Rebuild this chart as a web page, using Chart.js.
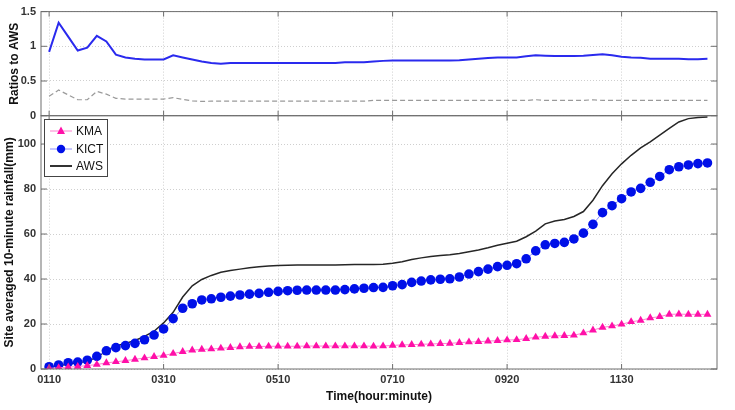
<!DOCTYPE html>
<html>
<head>
<meta charset="utf-8">
<script src="https://cdn.jsdelivr.net/npm/chart.js@4.4.1/dist/chart.umd.min.js"></script>
<style>
    html, body { margin: 0; padding: 0; background: #fff; }
    #wrap { position: relative; width: 735px; height: 410px; }
    #wrap canvas { position: absolute; left: 0; top: 0; }
</style>
</head>
<body>
<div id="wrap">
    <canvas id="ratioChart" width="735" height="410"></canvas>
    <canvas id="rainChart" width="735" height="410"></canvas>
</div>
<script>
// 10-minute steps, one tick label every 12 steps
const tickIndex = [0, 12, 24, 36, 48, 60];
const tickLabels = ['0110', '0310', '0510', '0710', '0920', '1130'];

const kma = [
    0.3, 0.5, 0.8, 1.1, 1.5, 2.0, 2.7, 3.2, 3.7, 4.3,
    4.9, 5.5, 6.0, 6.9, 7.7, 8.4, 8.7, 8.9, 9.2, 9.5,
    9.8, 10.0, 10.0, 10.1, 10.1, 10.1, 10.1, 10.2, 10.2, 10.2,
    10.2, 10.2, 10.2, 10.2, 10.1, 10.2, 10.5, 10.7, 10.8, 11.0,
    11.1, 11.3, 11.4, 11.7, 12.0, 12.1, 12.4, 12.6, 12.9, 13.0,
    13.5, 14.1, 14.5, 14.7, 14.8, 15.0, 16.0, 17.3, 18.5, 19.1,
    19.9, 21.0, 21.6, 22.7, 23.3, 24.3, 24.4, 24.3, 24.3, 24.3
];
const kict = [
    1.0, 1.8, 2.8, 3.1, 3.9, 5.6, 8.1, 9.5, 10.4, 11.4,
    13.0, 15.1, 17.8, 22.4, 27.0, 29.0, 30.7, 31.2, 31.9, 32.4,
    32.9, 33.3, 33.6, 34.1, 34.5, 34.8, 35.0, 35.1, 35.1, 35.1,
    35.1, 35.3, 35.6, 35.9, 36.2, 36.3, 37.0, 37.5, 38.5, 39.1,
    39.6, 39.9, 40.1, 40.9, 42.2, 43.3, 44.4, 45.5, 46.1, 46.8,
    49.0, 52.5, 55.2, 55.8, 56.3, 57.8, 60.4, 64.3, 69.5, 72.6,
    75.7, 78.7, 80.3, 83.0, 85.6, 88.6, 89.9, 90.7, 91.3, 91.6
];
const aws = [
    0.8, 1.4, 2.2, 2.8, 3.6, 5.2, 8.2, 10.2, 11.4, 12.7,
    14.5, 16.8, 20.5, 25.2, 32.0, 37.0, 39.8, 41.6, 43.0, 43.8,
    44.4, 45.0, 45.4, 45.8, 46.0, 46.1, 46.2, 46.2, 46.2, 46.2,
    46.2, 46.3, 46.4, 46.5, 46.5, 46.6, 47.0, 47.7, 48.7, 49.4,
    50.0, 50.5, 50.8, 51.3, 52.1, 52.9, 53.9, 55.0, 55.9, 56.8,
    58.8, 61.3, 64.5, 65.8, 66.5, 67.8, 70.0, 75.0, 81.5, 86.8,
    91.2, 95.0, 98.3, 101.0, 104.0, 107.0, 109.8, 111.3, 111.8, 112.0
];
const ratioKict = [
    0.92, 1.34, 1.14, 0.94, 0.98, 1.15, 1.07, 0.88, 0.84, 0.82,
    0.81, 0.81, 0.81, 0.87, 0.84, 0.81, 0.78, 0.76, 0.75, 0.76,
    0.76, 0.76, 0.76, 0.76, 0.76, 0.76, 0.76, 0.76, 0.76, 0.76,
    0.76, 0.77, 0.77, 0.77, 0.78, 0.79, 0.795, 0.795, 0.795, 0.795,
    0.795, 0.795, 0.795, 0.80, 0.81, 0.82, 0.83, 0.84, 0.84, 0.84,
    0.855, 0.87, 0.865, 0.86, 0.86, 0.86, 0.865, 0.875, 0.885, 0.87,
    0.85, 0.84, 0.835, 0.82, 0.82, 0.82, 0.82, 0.815, 0.815, 0.82
];
const ratioKma = [
    0.28, 0.37, 0.30, 0.23, 0.23, 0.35, 0.31, 0.25, 0.24, 0.24,
    0.24, 0.24, 0.24, 0.26, 0.235, 0.215, 0.205, 0.21, 0.21, 0.21,
    0.21, 0.21, 0.21, 0.21, 0.21, 0.21, 0.21, 0.21, 0.21, 0.21,
    0.21, 0.21, 0.21, 0.21, 0.22, 0.22, 0.22, 0.22, 0.22, 0.22,
    0.22, 0.22, 0.22, 0.22, 0.22, 0.22, 0.22, 0.22, 0.22, 0.22,
    0.22, 0.23, 0.22, 0.22, 0.22, 0.22, 0.22, 0.23, 0.22, 0.22,
    0.22, 0.22, 0.22, 0.22, 0.22, 0.22, 0.22, 0.22, 0.22, 0.22
];

const FONT = "'Liberation Sans', Arial, sans-serif";
const toXY = arr => arr.map((v, i) => ({ x: i, y: v }));

// matlab style box with inward tick marks
const framePlugin = {
    id: 'frame',
    afterDraw(chart) {
        const { ctx, chartArea: a, scales } = chart;
        ctx.save();
        ctx.strokeStyle = '#6e6e6e';
        ctx.lineWidth = 1;
        ctx.beginPath();
        scales.x.ticks.forEach(t => {
            const px = scales.x.getPixelForValue(t.value);
            ctx.moveTo(px, a.bottom); ctx.lineTo(px, a.bottom - 5);
            ctx.moveTo(px, a.top); ctx.lineTo(px, a.top + 5);
        });
        scales.y.ticks.forEach(t => {
            const py = scales.y.getPixelForValue(t.value);
            ctx.moveTo(a.left, py); ctx.lineTo(a.left + 6, py);
            ctx.moveTo(a.right, py); ctx.lineTo(a.right - 6, py);
        });
        ctx.stroke();
        ctx.strokeRect(a.left, a.top, a.right - a.left, a.bottom - a.top);
        ctx.restore();
    }
};

const legendPlugin = {
    id: 'boxLegend',
    afterDraw(chart) {
        const { ctx } = chart;
        ctx.save();
        ctx.fillStyle = '#fff';
        ctx.fillRect(44, 119, 63, 57);
        ctx.strokeStyle = '#444';
        ctx.lineWidth = 1;
        ctx.strokeRect(44.5, 119.5, 63, 57);
        ctx.font = '12px ' + FONT;
        ctx.textBaseline = 'middle';
        const items = [
            { label: 'KMA', y: 131, line: '#ff7fcf', lw: 1, mark: 'tri', col: '#ff10a8' },
            { label: 'KICT', y: 149, line: '#8c8cff', lw: 1, mark: 'dot', col: '#0010e8' },
            { label: 'AWS', y: 166, line: '#333', lw: 2, mark: null }
        ];
        items.forEach(it => {
            ctx.strokeStyle = it.line;
            ctx.lineWidth = it.lw;
            ctx.beginPath();
            ctx.moveTo(50, it.y); ctx.lineTo(72, it.y);
            ctx.stroke();
            ctx.fillStyle = it.col;
            if (it.mark === 'tri') {
                ctx.beginPath();
                ctx.moveTo(61, it.y - 4.5); ctx.lineTo(65, it.y + 3); ctx.lineTo(57, it.y + 3);
                ctx.closePath(); ctx.fill();
            } else if (it.mark === 'dot') {
                ctx.beginPath(); ctx.arc(61, it.y, 4.2, 0, Math.PI * 2); ctx.fill();
            }
            ctx.fillStyle = '#111';
            ctx.fillText(it.label, 76, it.y + 1);
        });
        ctx.restore();
    }
};

function xAxis(showLabels, height) {
    return {
        type: 'linear',
        min: -0.85,
        max: 70,
        afterBuildTicks: scale => { scale.ticks = tickIndex.map(v => ({ value: v })); },
        afterFit: scale => { scale.height = height; },
        grid: { color: '#cfcfcf', drawTicks: false },
        border: { display: false, dash: [1, 2] },
        ticks: {
            display: showLabels,
            padding: 4,
            color: '#333',
            font: { family: FONT, size: 11, weight: 'bold' },
            maxRotation: 0,
            callback: v => tickLabels[tickIndex.indexOf(v)]
        },
        title: {
            display: showLabels,
            text: 'Time(hour:minute)',
            color: '#111',
            font: { family: FONT, size: 12, weight: 'bold' },
            padding: { top: 0, bottom: 6 }
        }
    };
}

function yAxis(min, max, step, title, titlePad) {
    return {
        min: min,
        max: max,
        afterBuildTicks: scale => {
            const t = [];
            for (let v = min; v <= max + 1e-9; v += step) t.push({ value: Math.round(v * 100) / 100 });
            scale.ticks = t;
        },
        afterFit: scale => { scale.width = 41; },
        grid: { color: '#cfcfcf', drawTicks: false },
        border: { display: false, dash: [1, 2] },
        ticks: {
            padding: 5,
            color: '#333',
            font: { family: FONT, size: 11, weight: 'bold' },
            callback: v => String(v)
        },
        title: {
            display: true,
            text: title,
            color: '#111',
            font: { family: FONT, size: 12, weight: 'bold' },
            padding: titlePad
        }
    };
}

new Chart(document.getElementById('ratioChart'), {
    type: 'line',
    data: {
        datasets: [
            { data: toXY(ratioKict), borderColor: '#2a2aee', borderWidth: 2, pointRadius: 0, tension: 0 },
            { data: toXY(ratioKma), borderColor: '#9a9a9a', borderWidth: 1.2, borderDash: [5, 3], pointRadius: 0, tension: 0 }
        ]
    },
    options: {
        responsive: false,
        animation: false,
        layout: { padding: { left: 0, right: 18, top: 10.7, bottom: 294.3 } },
        plugins: { legend: { display: false }, tooltip: { enabled: false } },
        scales: {
            x: xAxis(false, 0),
            y: yAxis(0, 1.5, 0.5, 'Ratios to AWS', { top: 7, bottom: 0 })
        }
    },
    plugins: [framePlugin]
});

new Chart(document.getElementById('rainChart'), {
    type: 'line',
    data: {
        datasets: [
            {
                label: 'KMA', data: toXY(kma), borderColor: '#ff7fcf', borderWidth: 1,
                pointStyle: 'triangle', pointRadius: 4.6, pointBackgroundColor: '#ff10a8',
                pointBorderColor: '#ff10a8', pointBorderWidth: 0, tension: 0
            },
            {
                label: 'KICT', data: toXY(kict), borderColor: '#8c8cff', borderWidth: 1,
                pointStyle: 'circle', pointRadius: 4.8, pointBackgroundColor: '#0010e8',
                pointBorderColor: '#0010e8', pointBorderWidth: 0, tension: 0
            },
            {
                label: 'AWS', data: toXY(aws), borderColor: '#262626', borderWidth: 1.5,
                pointRadius: 0, tension: 0
            }
        ]
    },
    options: {
        responsive: false,
        animation: false,
        layout: { padding: { left: 0, right: 18, top: 115.7, bottom: 0 } },
        plugins: { legend: { display: false }, tooltip: { enabled: false } },
        scales: {
            x: xAxis(true, 41),
            y: yAxis(0, 112.6, 20, 'Site averaged 10-minute rainfall(mm)', { top: 2, bottom: 0 })
        }
    },
    plugins: [framePlugin, legendPlugin]
});
</script>
</body>
</html>
